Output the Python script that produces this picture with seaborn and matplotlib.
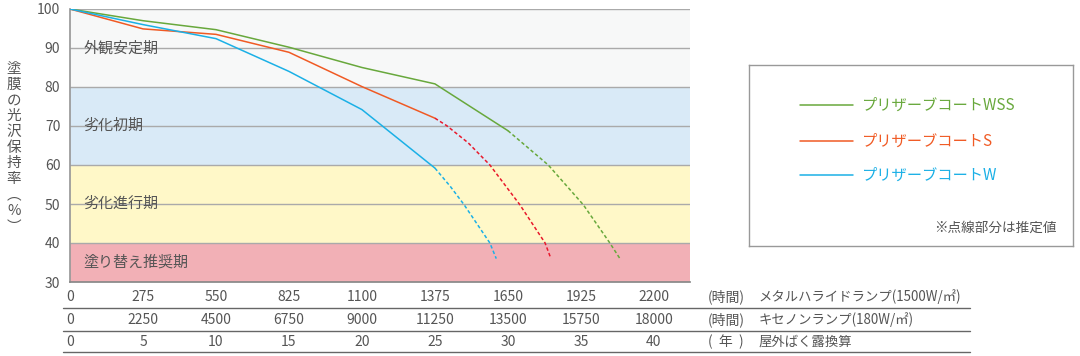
import numpy as np
import pandas as pd
import matplotlib
matplotlib.use("Agg")
import matplotlib.pyplot as plt
import matplotlib.transforms as mtransforms
from matplotlib.lines import Line2D
import seaborn as sns

# values
hours_ticks = [0, 275, 550, 825, 1100, 1375, 1650, 1925, 2200]
xenon_labels = ["0", "2250", "4500", "6750", "9000", "11250", "13500", "15750", "18000"]
year_labels = ["0", "5", "10", "15", "20", "25", "30", "35", "40"]

wss_x = [0, 275, 550, 825, 1100, 1375, 1650]
wss_y = [100, 97, 94.7, 90.2, 85, 80.8, 68.8]
wss_est_x = [1650, 1802, 1934, 2034, 2072]
wss_est_y = [68.8, 60, 49.8, 40, 36]

s_x = [0, 275, 550, 825, 1100, 1375]
s_y = [100, 94.9, 93.5, 88.9, 80.1, 72]
s_est_x = [1375, 1419, 1500, 1582, 1695, 1790, 1812]
s_est_y = [72, 70.1, 65.7, 60, 49.8, 40, 36]

w_x = [0, 275, 550, 825, 1100, 1375]
w_y = [100, 96, 92.4, 84, 74.2, 59.2]
w_est_x = [1375, 1433, 1485, 1582, 1606]
w_est_y = [59.2, 54.5, 49.8, 40, 36]

bands = [(30, 40, "#f2b0b6", "塗り替え推奨期", 35),
         (40, 60, "#fff8c8", "劣化進行期", 50),
         (60, 80, "#d9eaf7", "劣化初期", 70),
         (80, 100, "#f7f8f8", "外観安定期", 90)]

series = [("プリザーブコートWSS", wss_x, wss_y, wss_est_x, wss_est_y, "#68a83c", "#68a83c"),
          ("プリザーブコートS", s_x, s_y, s_est_x, s_est_y, "#f05a24", "#e8192c"),
          ("プリザーブコートW", w_x, w_y, w_est_x, w_est_y, "#1bb0e6", "#1bb0e6")]

sns.set_theme(style="white")
plt.rcParams['font.family'] = ['Noto Sans CJK JP', 'DejaVu Sans']
txt = "#555555"

fig = plt.figure(figsize=(10.8, 3.56), dpi=100)
ax = fig.add_axes([70/1080, 74/356, 620/1080, 273/356])

for lo, hi, col, lab, ly in bands:
    ax.axhspan(lo, hi, color=col, lw=0, zorder=0)
    ax.text(50, ly, lab, fontsize=10.8, color=txt, va="center", ha="left", zorder=3)

for y in range(40, 101, 10):
    ax.axhline(y, color="#aaaaaa", lw=1, zorder=1)

for name, x, y, ex, ey, c, ec in series:
    sns.lineplot(x=x, y=y, ax=ax, color=c, linewidth=1.1, sort=False, estimator=None, zorder=4)
    sns.lineplot(x=ex, y=ey, ax=ax, color=ec, linewidth=1.1, sort=False, estimator=None,
                 linestyle=(0, (2.3, 1.6)), zorder=4)

ax.set_xlim(0, 2336)
ax.set_ylim(30, 100)
ax.set_xlabel("")
ax.set_ylabel("")
ax.set_yticks(range(30, 101, 10))
ax.tick_params(axis="y", length=0, labelsize=10, labelcolor=txt, pad=7)
ax.set_xticks(hours_ticks[1:])
ax.set_xticklabels([])
ax.tick_params(axis="x", direction="in", length=5, width=1, color="#888888")
for side in ["top", "right"]:
    ax.spines[side].set_visible(False)
ax.spines["left"].set_color("#999999")
ax.spines["bottom"].set_color("#888888")

# three rows of x labels under the axis
trans = mtransforms.blended_transform_factory(ax.transData, ax.transAxes)
rows = [([str(t) for t in hours_ticks], -0.055, "(時間)", "メタルハライドランプ(1500W/㎡)"),
        (xenon_labels, -0.139, "(時間)", "キセノンランプ(180W/㎡)"),
        (year_labels, -0.22, "(  年  )", "屋外ばく露換算")]
for labels, yy, unit, desc in rows:
    for t, lab in zip(hours_ticks, labels):
        ax.text(t, yy, lab, transform=trans, ha="center", va="center",
                fontsize=10, color=txt, clip_on=False)
    ax.text(1.029, yy, unit, transform=ax.transAxes, ha="left", va="center",
            fontsize=10, color=txt, clip_on=False)
    ax.text(1.111, yy, desc, transform=ax.transAxes, ha="left", va="center",
            fontsize=9.6, color=txt, clip_on=False)
for yy in [-0.095, -0.179, -0.256]:
    ax.add_line(Line2D([-0.011, 1.452], [yy, yy], transform=ax.transAxes,
                       color="#666666", lw=1, clip_on=False))

# vertical y label
fig.text(14/1080, 0.585, "\n".join("塗膜の光沢保持率︵%︶"), ha="center", va="center",
         fontsize=10.5, color=txt, linespacing=1.16)

# legend box
lax = fig.add_axes([749/1080, 110/356, 324/1080, 181/356])
lax.set_xlim(0, 1)
lax.set_ylim(0, 1)
lax.set_xticks([])
lax.set_yticks([])
lax.set_facecolor("white")
for sp in lax.spines.values():
    sp.set_color("#999999")
    sp.set_linewidth(1)
for (name, x, y, ex, ey, c, ec), ly in zip(series, [0.779, 0.58, 0.392]):
    lax.add_line(Line2D([0.157, 0.321], [ly, ly], color=c, lw=1.1))
    lax.text(0.349, ly, name, color=c, fontsize=11, va="center", ha="left")
lax.text(0.951, 0.099, "※点線部分は推定値", color=txt, fontsize=9.8, ha="right", va="center")

fig.savefig("out.png", dpi=100)
